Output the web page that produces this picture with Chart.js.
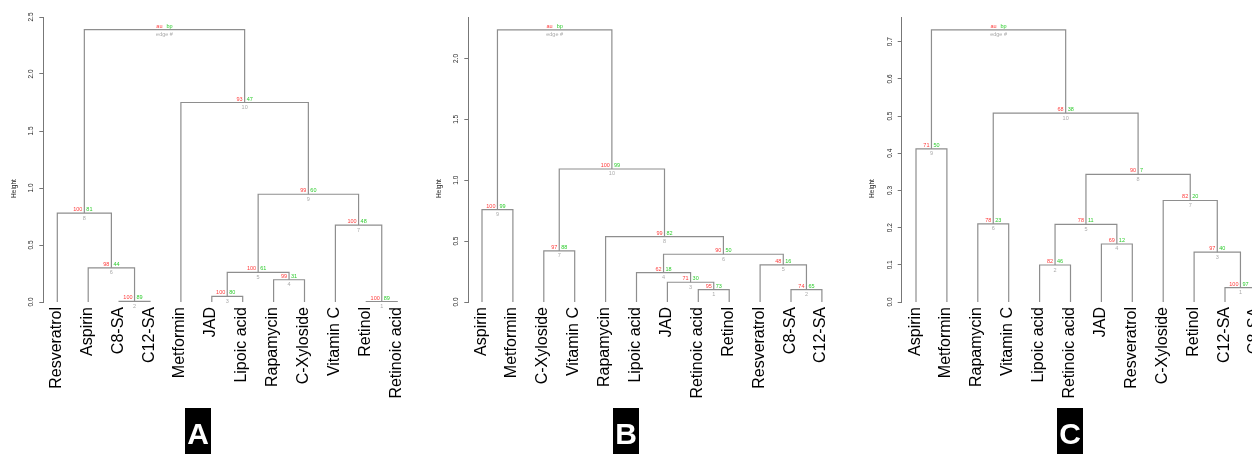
<!DOCTYPE html>
<html>
<head>
    <title>Dendrograms A B C</title>
    <script src="https://cdn.jsdelivr.net/npm/chart.js"></script>
    <style>
        body { margin: 0; background: #fff; }
        #wrap { position: relative; width: 1252px; height: 454px; overflow: hidden; }
        #wrap canvas { position: absolute; left: 0; top: 0; }
    </style>
</head>
<body>
<div id="wrap">
    <canvas id="chartA" width="1252" height="454"></canvas>
    <canvas id="chartB" width="1252" height="454"></canvas>
    <canvas id="chartC" width="1252" height="454"></canvas>
</div>
<script>
// merges use hclust convention: negative = leaf (1-based, in plot order), positive = earlier merge row
// the last merge is the root, labelled "au / bp / edge #"

// Panel A
const leavesA = ['Resveratrol', 'Aspirin', 'C8-SA', 'C12-SA', 'Metformin', 'JAD', 'Lipoic acid',
    'Rapamycin', 'C-Xyloside', 'Vitamin C', 'Retinol', 'Retinoic acid'];
const mergesA = [[-11, -12], [-3, -4], [-6, -7], [-8, -9], [3, 4], [-2, 2], [-10, 1], [-1, 6], [5, 7], [-5, 9], [8, 10]];
const heightsA = [0.004, 0.005, 0.05, 0.195, 0.26, 0.30, 0.675, 0.78, 0.945, 1.75, 2.39];
const auA = [100, 100, 100, 99, 100, 98, 100, 100, 99, 93];
const bpA = [89, 89, 80, 31, 61, 44, 48, 81, 60, 47];
const ticksA = [0, 0.5, 1.0, 1.5, 2.0, 2.5];

// Panel B
const leavesB = ['Aspirin', 'Metformin', 'C-Xyloside', 'Vitamin C', 'Rapamycin', 'Lipoic acid', 'JAD',
    'Retinoic acid', 'Retinol', 'Resveratrol', 'C8-SA', 'C12-SA'];
const mergesB = [[-8, -9], [-11, -12], [-7, 1], [-6, 3], [-10, 2], [4, 5], [-3, -4], [-5, 6], [-1, -2], [7, 8], [9, 10]];
const heightsB = [0.101, 0.102, 0.162, 0.241, 0.304, 0.392, 0.419, 0.536, 0.758, 1.092, 2.235];
const auB = [95, 74, 71, 62, 48, 90, 97, 99, 100, 100];
const bpB = [73, 65, 30, 18, 16, 50, 88, 82, 99, 99];
const ticksB = [0, 0.5, 1.0, 1.5, 2.0];

// Panel C
const leavesC = ['Aspirin', 'Metformin', 'Rapamycin', 'Vitamin C', 'Lipoic acid', 'Retinoic acid', 'JAD',
    'Resveratrol', 'C-Xyloside', 'Retinol', 'C12-SA', 'C8-SA'];
const mergesC = [[-11, -12], [-5, -6], [-10, 1], [-7, -8], [2, 4], [-3, -4], [-9, 3], [5, 7], [-1, -2], [6, 8], [9, 10]];
const heightsC = [0.0385, 0.0995, 0.134, 0.156, 0.209, 0.210, 0.273, 0.343, 0.412, 0.508, 0.732];
const auC = [100, 82, 97, 69, 78, 78, 82, 90, 71, 68];
const bpC = [97, 46, 40, 12, 11, 23, 20, 7, 50, 38];
const ticksC = [0, 0.1, 0.2, 0.3, 0.4, 0.5, 0.6, 0.7];

const lineColor = '#8e8e8e';
const W = 1252, H = 454;
const plotTop = 17, plotBottom = 302;

function layoutTree(merges, heights) {
    const nx = [], ny = [];
    const pos = c => c < 0 ? [-c, 0] : [nx[c - 1], ny[c - 1]];
    const segs = [];
    merges.forEach((m, i) => {
        const a = pos(m[0]), b = pos(m[1]);
        const h = heights[i];
        segs.push([{x: a[0], y: a[1]}, {x: a[0], y: h}, {x: b[0], y: h}, {x: b[0], y: b[1]}]);
        nx.push((a[0] + b[0]) / 2);
        ny.push(h);
    });
    return {nx, ny, segs};
}

function textPlugin(p, tree) {
    return {
        id: 'dendroText' + p.letter,
        afterDraw(chart) {
            const c = chart.ctx, xs = chart.scales.x, ys = chart.scales.y;
            c.save();
            // leaf labels
            c.fillStyle = '#000';
            c.font = '16px "Liberation Sans", Arial, sans-serif';
            c.textAlign = 'right';
            c.textBaseline = 'alphabetic';
            p.leaves.forEach((name, i) => {
                c.save();
                c.translate(xs.getPixelForValue(i + 1) + 3.5, 307);
                c.rotate(-Math.PI / 2);
                c.fillText(name, 0, 0);
                c.restore();
            });
            // y tick labels and axis title
            c.fillStyle = '#222';
            c.font = '6.5px "Liberation Sans", Arial, sans-serif';
            c.textAlign = 'center';
            p.ticks.forEach(v => {
                c.save();
                c.translate(p.axisX - 10, ys.getPixelForValue(v));
                c.rotate(-Math.PI / 2);
                c.fillText(v.toFixed(1), 0, 0);
                c.restore();
            });
            c.save();
            c.translate(p.axisX - 27.5, 188.5);
            c.rotate(-Math.PI / 2);
            c.fillText('Height', 0, 0);
            c.restore();
            // au / bp / edge numbers
            c.font = '5.5px "Liberation Sans", Arial, sans-serif';
            const n = p.merges.length;
            for (let i = 0; i < n; i++) {
                const cx = xs.getPixelForValue(tree.nx[i]);
                const cy = ys.getPixelForValue(tree.ny[i]);
                const root = i === n - 1;
                c.textAlign = 'right';
                c.fillStyle = '#ff3b3b';
                c.fillText(root ? 'au' : String(p.au[i]), cx - 2, cy - 2);
                c.textAlign = 'left';
                c.fillStyle = '#2ecc2e';
                c.fillText(root ? 'bp' : String(p.bp[i]), cx + 2, cy - 2);
                c.textAlign = 'center';
                c.fillStyle = '#aaaaaa';
                c.fillText(root ? 'edge #' : String(i + 1), cx, cy + 6.5);
            }
            // panel letter
            c.fillStyle = '#000';
            c.fillRect(p.boxX, 408, 26, 46);
            c.fillStyle = '#fff';
            c.font = 'bold 30px "Liberation Sans", Arial, sans-serif';
            c.textAlign = 'center';
            c.fillText(p.letter, p.boxX + 13, 444);
            c.restore();
        }
    };
}

function drawPanel(id, p) {
    const tree = layoutTree(p.merges, p.heights);
    const xmin = 1 - (p.leaf1X - p.axisX) / p.spacing;
    const rightPx = Math.min(W, p.axisX + (12.6 - xmin) * p.spacing);
    const xmax = xmin + (rightPx - p.axisX) / p.spacing;
    const ymax = p.tickTop * (plotBottom - plotTop) / (plotBottom - p.tickTopY);

    const datasets = tree.segs.map(s => ({
        data: s,
        showLine: true,
        borderColor: lineColor,
        borderWidth: 1.2,
        pointRadius: 0,
        fill: false,
        tension: 0
    }));

    new Chart(document.getElementById(id).getContext('2d'), {
        type: 'scatter',
        data: {datasets},
        options: {
            responsive: false,
            animation: false,
            events: [],
            layout: {
                autoPadding: false,
                padding: {left: p.axisX - 4, right: W - rightPx, top: plotTop, bottom: H - plotBottom}
            },
            plugins: {legend: {display: false}, tooltip: {enabled: false}},
            scales: {
                x: {type: 'linear', display: false, min: xmin, max: xmax},
                y: {
                    type: 'linear',
                    min: 0,
                    max: ymax,
                    afterBuildTicks: s => { s.ticks = p.ticks.map(v => ({value: v})); },
                    afterFit: s => { s.width = 4; },
                    ticks: {display: false},
                    grid: {drawOnChartArea: false, drawTicks: true, tickLength: 4, color: '#777', lineWidth: 1},
                    border: {display: true, color: '#777', width: 1}
                }
            }
        },
        plugins: [textPlugin(p, tree)]
    });
}

drawPanel('chartA', {letter: 'A', leaves: leavesA, merges: mergesA, heights: heightsA, au: auA, bp: bpA,
    ticks: ticksA, tickTop: 2.5, tickTopY: 17, axisX: 43.3, leaf1X: 57.3, spacing: 30.9, boxX: 185});
drawPanel('chartB', {letter: 'B', leaves: leavesB, merges: mergesB, heights: heightsB, au: auB, bp: bpB,
    ticks: ticksB, tickTop: 2.0, tickTopY: 58.4, axisX: 468.3, leaf1X: 482, spacing: 30.9, boxX: 613});
drawPanel('chartC', {letter: 'C', leaves: leavesC, merges: mergesC, heights: heightsC, au: auC, bp: bpC,
    ticks: ticksC, tickTop: 0.7, tickTopY: 41.7, axisX: 901.7, leaf1X: 916, spacing: 30.9, boxX: 1057});
</script>
</body>
</html>
